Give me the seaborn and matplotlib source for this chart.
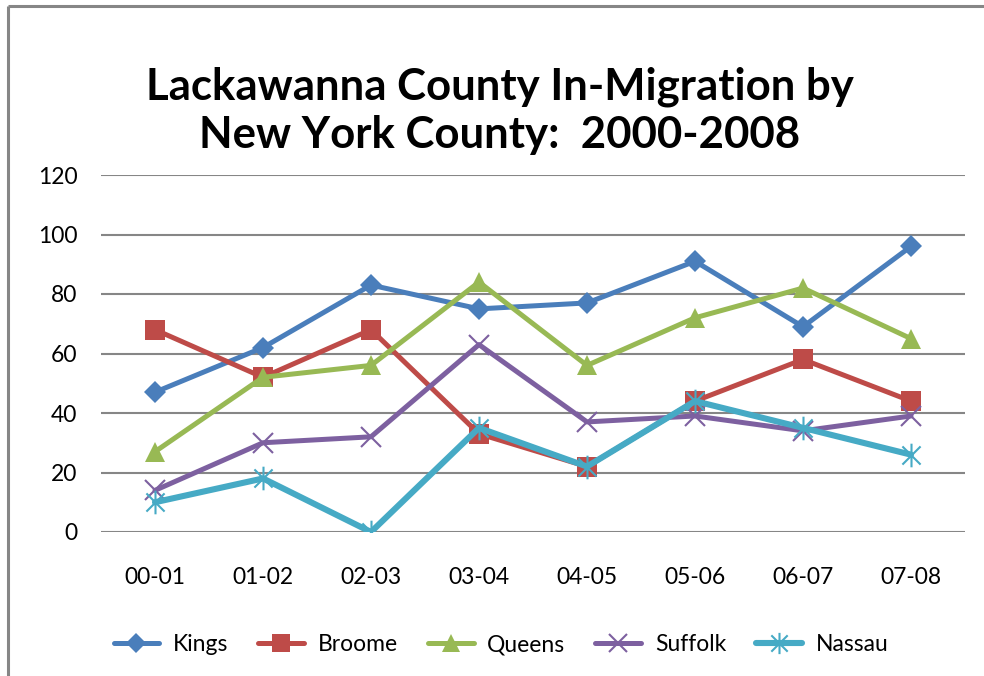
import matplotlib
matplotlib.use("Agg")
import matplotlib.pyplot as plt
import pandas as pd
import seaborn as sns
from matplotlib.path import Path
from matplotlib.lines import Line2D

periods = ["00-01", "01-02", "02-03", "03-04", "04-05", "05-06", "06-07", "07-08"]
kings = [47, 62, 83, 75, 77, 91, 69, 96]
broome = [68, 52, 68, 33, 22, 44, 58, 44]
queens = [27, 52, 56, 84, 56, 72, 82, 65]
suffolk = [14, 30, 32, 63, 37, 39, 34, 39]
nassau = [10, 18, 0, 35, 22, 44, 35, 26]

series = {"Kings": kings, "Broome": broome, "Queens": queens,
          "Suffolk": suffolk, "Nassau": nassau}
colors = {"Kings": "#4A7EBB", "Broome": "#BE4B48", "Queens": "#98B954",
          "Suffolk": "#7D60A0", "Nassau": "#46AAC5"}

# excel-like asterisk marker: an x with a vertical bar through it
star = Path([(-1, -1), (1, 1), (-1, 1), (1, -1), (0, -1.3), (0, 1.3)],
            [Path.MOVETO, Path.LINETO, Path.MOVETO, Path.LINETO, Path.MOVETO, Path.LINETO])
markers = {"Kings": "D", "Broome": "s", "Queens": "^", "Suffolk": "x", "Nassau": star}
sizes = {"Kings": 11.5, "Broome": 14, "Queens": 15, "Suffolk": 15, "Nassau": 17}
widths = {"Kings": 3.6, "Broome": 3.6, "Queens": 3.6, "Suffolk": 3.6, "Nassau": 4.4}

sns.set_style("white")
plt.rcParams["font.family"] = ["Lato", "DejaVu Sans"]
plt.rcParams["text.color"] = "black"
plt.rcParams["xtick.color"] = "black"
plt.rcParams["ytick.color"] = "black"

fig = plt.figure(figsize=(9.84, 6.76), dpi=100, facecolor="white", edgecolor="white",
                 linewidth=0)
ax = fig.add_axes([101 / 984, 144 / 676, 864 / 984, 357 / 676])

for name, vals in series.items():
    df = pd.DataFrame({"period": range(len(periods)), "value": vals})
    line_art = name in ("Suffolk", "Nassau")
    sns.lineplot(data=df, x="period", y="value", color=colors[name],
                 marker=markers[name], markersize=sizes[name], linewidth=widths[name],
                 markeredgecolor=colors[name], markerfacecolor=colors[name],
                 markeredgewidth=1.5 if line_art else 0, ax=ax)

ax.set_xlim(-0.5, 7.5)
ax.set_ylim(0, 120)
ax.set_yticks(range(0, 121, 20))
ax.set_xticks(range(len(periods)))
ax.set_xticklabels(periods)
ax.set_xlabel("")
ax.set_ylabel("")
ax.yaxis.grid(True, color="#868686", linewidth=1.5)
ax.set_axisbelow(True)
for s in ax.spines.values():
    s.set_visible(False)
ax.tick_params(axis="y", length=0, pad=17, labelsize=16.5)
ax.tick_params(axis="x", length=0, pad=25, labelsize=16.5)

fig.text(0.508, 0.836, "Lackawanna County In-Migration by\nNew York County:  2000-2008",
         ha="center", va="center", fontsize=31.5, fontweight="bold",
         linespacing=1.22, color="black")

handles = [Line2D([0], [0], color=colors[n], marker=markers[n], linewidth=widths[n],
                  markersize=sizes[n] * 0.9, markeredgecolor=colors[n],
                  markeredgewidth=1.5 if n in ("Suffolk", "Nassau") else 0)
           for n in series]
fig.legend(handles, list(series), loc="center", bbox_to_anchor=(0.509, 0.046),
           ncol=5, frameon=False, fontsize=16.5, handlelength=2.0,
           columnspacing=1.3, handletextpad=0.6)

# chart frame: only the top and left edges show in the crop
fig.add_artist(Line2D([8 / 984, 1.0], [1 - 6 / 676, 1 - 6 / 676], transform=fig.transFigure,
                      color="#868686", linewidth=2.2, solid_capstyle="butt"))
fig.add_artist(Line2D([8 / 984, 8 / 984], [0.0, 1 - 6 / 676], transform=fig.transFigure,
                      color="#868686", linewidth=2.2, solid_capstyle="butt"))

fig.savefig("out.png", dpi=100, facecolor="white", edgecolor="white")
